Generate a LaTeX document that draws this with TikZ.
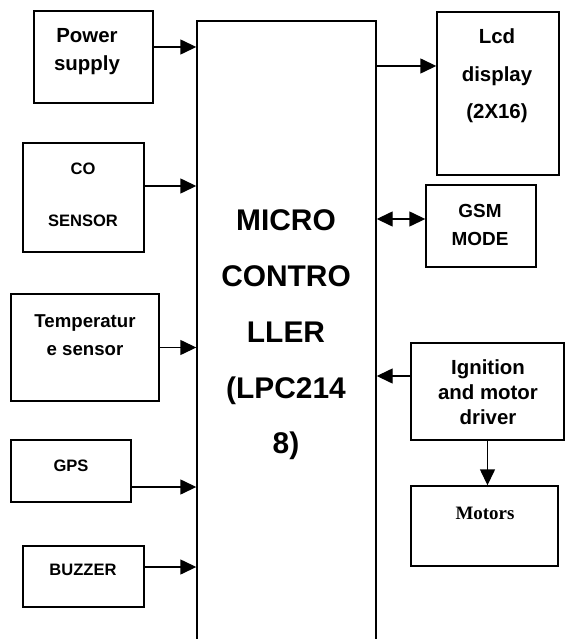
\documentclass[tikz,border=0pt]{standalone}
\usepackage{fontspec}
\setmainfont{Liberation Sans}
\newfontfamily\timesfont{Liberation Serif}
\usetikzlibrary{arrows.meta, positioning}

\begin{document}
\begin{tikzpicture}[
    x=1bp, y=-1bp,
    box/.style 2 args={rectangle, draw, line width=1.4bp, inner sep=0pt, minimum width=#1, minimum height=#2},
    txt/.style={align=center, inner sep=0pt},
    arr/.style={-{Triangle[length=16bp, width=15bp]}, line width=1.4bp},
    darr/.style={{Triangle[length=16bp, width=15bp]}-{Triangle[length=16bp, width=15bp]}, line width=1.4bp}
  ]
    \useasboundingbox (0,0) rectangle (565,639);
    \clip (0,0) rectangle (565,639);

    % Microcontroller (runs off the bottom of the page)
    \node[box={179bp}{639bp}] (mcu) at (286.5,340.5) {};
    \node[txt, font={\fontsize{30}{56}\selectfont\bfseries}] (mcutxt) at (286,335) {MICRO\\CONTRO\\LLER\\(LPC214\\8)};

    % Inputs on the left
    \node[box={119bp}{92bp}] (psu) at (93.5,57) {};
    \node[txt, font={\fontsize{20.5}{28}\selectfont\bfseries}] (psutxt) at (87,52) {Power\\supply};

    \node[box={121bp}{109bp}] (co) at (83.5,197.5) {};
    \node[txt, font={\fontsize{16.6}{52}\selectfont\bfseries}] (cotxt) at (83,195) {CO\\SENSOR};

    \node[box={148bp}{107bp}] (temp) at (85,347.5) {};
    \node[txt, font={\fontsize{18.7}{28}\selectfont\bfseries}] (temptxt) at (85,335) {Temperatur\\e sensor};

    \node[box={120bp}{62bp}] (gps) at (71,471) {};
    \node[txt, font={\fontsize{16.6}{20}\selectfont\bfseries}] (gpstxt) at (71,466) {GPS};

    \node[box={121bp}{61bp}] (buz) at (83.5,576.5) {};
    \node[txt, font={\fontsize{16.6}{20}\selectfont\bfseries}] (buztxt) at (83,570) {BUZZER};

    % Outputs on the right
    \node[box={122bp}{163bp}] (lcd) at (498,93.5) {};
    \node[txt, font={\fontsize{20.5}{37.5}\selectfont\bfseries}] (lcdtxt) at (497,76) {Lcd\\display\\(2X16)};

    \node[box={110bp}{82bp}] (gsm) at (481,226) {};
    \node[txt, font={\fontsize{19}{28}\selectfont\bfseries}] (gsmtxt) at (480,225) {GSM\\MODE};

    \node[box={153bp}{97bp}] (ign) at (487.5,391.5) {};
    \node[txt, font={\fontsize{20.5}{25}\selectfont\bfseries}] (igntxt) at (488,392) {Ignition\\and motor\\driver};

    \node[box={147bp}{80bp}] (mot) at (484.5,526) {};
    \node[txt, font={\fontsize{19}{22}\selectfont\timesfont\bfseries}] (mottxt) at (485,513) {Motors};

    % Arrows
    \draw[arr] ([yshift=10bp]psu.east) -- ([yshift=10bp]psu.east -| mcu.west);
    \draw[arr] ([yshift=11.5bp]co.east) -- ([yshift=11.5bp]co.east -| mcu.west);
    \draw[arr] (temp.east) -- (temp.east -| mcu.west);
    \draw[arr] ([yshift=-16bp]gps.east) -- ([yshift=-16bp]gps.east -| mcu.west);
    \draw[arr] ([yshift=9.5bp]buz.east) -- ([yshift=9.5bp]buz.east -| mcu.west);
    \draw[arr] ([yshift=27.5bp]lcd.west -| mcu.east) -- ([yshift=27.5bp]lcd.west);
    \draw[darr] ([yshift=7bp]gsm.west -| mcu.east) -- ([yshift=7bp]gsm.west);
    \draw[arr] ([yshift=15.5bp]ign.west) -- ([yshift=15.5bp]ign.west -| mcu.east);
    \draw[arr] (ign.south) -- (ign.south |- mot.north);
\end{tikzpicture}
\end{document}
